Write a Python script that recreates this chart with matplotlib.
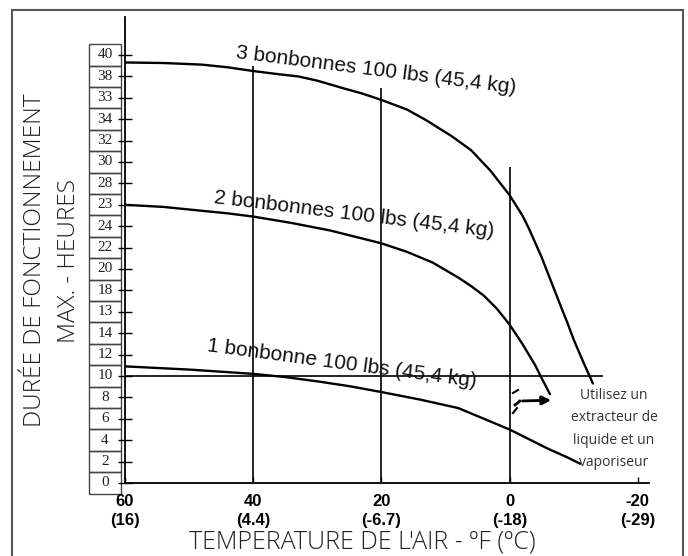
import numpy as np
import matplotlib
matplotlib.use("Agg")
import matplotlib.pyplot as plt
from matplotlib.patches import Rectangle
from matplotlib.transforms import blended_transform_factory

# Temperature (deg F) / hours
temp_3 = [60, 54, 48, 44, 40, 36, 33, 30, 26, 23, 20, 16, 13, 9, 6, 3, 0,
          -2, -3, -5, -6.5, -8, -9, -10, -11.5, -13]
hours_3 = [39.3, 39.25, 39.1, 38.85, 38.5, 38.2, 38.0, 37.6, 36.9, 36.4, 35.8,
           34.9, 33.9, 32.4, 31.1, 29.2, 26.9, 25.0, 23.8, 21.1, 18.8, 16.5,
           15.0, 13.4, 11.3, 9.3]

temp_2 = [60, 54, 49, 44, 40, 34, 28, 24, 20, 16, 12, 8, 6, 4, 2, 0,
          -2, -4, -5, -6.3]
hours_2 = [26.0, 25.8, 25.5, 25.2, 24.9, 24.3, 23.6, 23.0, 22.4, 21.6, 20.6,
           19.2, 18.4, 17.5, 16.3, 14.8, 13.0, 11.0, 9.8, 8.3]

temp_1 = [60, 55, 50, 45, 40, 35, 30, 25, 20, 14, 8, 6, 4, 2, 0, -3, -6,
          -9, -11]
hours_1 = [10.9, 10.75, 10.6, 10.4, 10.2, 9.9, 9.5, 9.05, 8.5, 7.8, 7.0,
           6.5, 6.0, 5.5, 5.0, 4.1, 3.2, 2.4, 1.8]

# y axis boxes (labels printed as in the original, typos included)
y_ticks = list(range(40, -1, -2))
y_labels = ["40", "38", "33", "34", "32", "30", "28", "23", "24", "22", "20",
            "18", "13", "14", "12", "10", "8", "6", "4", "2", "0"]

x_ticks = [60, 40, 20, 0, -20]
x_labels = ["60\n(16)", "40\n(4.4)", "20\n(-6.7)", "0\n(-18)", "-20\n(-29)"]

grid_temps = [40, 20, 0]
grid_tops = [39.0, 36.9, 29.5]

limit_hours = 10
limit_end = -14.6

curve_labels = ["3 bonbonnes 100 lbs (45,4 kg)",
                "2 bonbonnes 100 lbs (45,4 kg)",
                "1 bonbonne 100 lbs (45,4 kg)"]
label_pos = [(42.8, 39.7, -7.2), (46.2, 26.2, -6.9), (47.3, 12.3, -7.6)]

arrow_start = (-1.6, 7.66)
arrow_end = (-6.9, 7.75)
note = "Utilisez un\nextracteur de\nliquide et un\nvaporiseur"

fig = plt.figure(figsize=(6.88, 5.56), dpi=100)
ax = fig.add_axes([125 / 688, (556 - 483) / 556, (649 - 125) / 688, (483 - 17) / 556])
ax.set_xlim(60, -21.75)
ax.set_ylim(0, 43.55)

for s in ["top", "right"]:
    ax.spines[s].set_visible(False)
ax.spines["left"].set_linewidth(1.3)
ax.spines["bottom"].set_linewidth(1.3)

# curves
for t, h in [(temp_3, hours_3), (temp_2, hours_2), (temp_1, hours_1)]:
    ax.plot(t, h, color="black", lw=1.7, solid_capstyle="round",
            solid_joinstyle="round")

# vertical reference lines and the 10 h line
ax.vlines(grid_temps, 0, grid_tops, color="black", lw=1.2)
ax.hlines(limit_hours, 60, limit_end, color="black", lw=1.2)

# y ticks crossing the axis, labels in stacked boxes
ax.set_yticks(y_ticks)
ax.set_yticklabels([])
ax.tick_params(axis="y", direction="inout", length=10, width=1)
tr = blended_transform_factory(ax.transAxes, ax.transData)
for v, lab in zip(y_ticks, y_labels):
    ax.add_patch(Rectangle((-0.0687, v - 1), 0.0611, 2, transform=tr,
                           fill=False, edgecolor="#444", lw=1, clip_on=False))
    ax.text(-0.0382, v, lab, transform=tr, ha="center", va="center",
            fontsize=11, family="Liberation Serif", color="#222")

ax.set_xticks(x_ticks)
ax.set_xticklabels(x_labels, fontsize=12, fontweight="bold",
                   family="Liberation Sans", linespacing=1.3)
ax.tick_params(axis="x", direction="in", length=4, width=1, pad=8)

for lab, (x, y, rot) in zip(curve_labels, label_pos):
    ax.text(x, y, lab, rotation=rot, rotation_mode="anchor", ha="left",
            va="baseline", fontsize=15, family="Liberation Sans", color="#111")

# arrow towards the liquid extractor note
ax.annotate("", xy=arrow_end, xytext=arrow_start,
            arrowprops=dict(arrowstyle="-|>", color="black", lw=2, mutation_scale=13))
ax.plot([-0.85, -1.6], [7.29, 7.66], color="black", lw=2)
ax.plot([-0.53, -1.31], [8.41, 8.69], color="black", lw=1.5)
ax.plot([-0.53, -1.15], [6.54, 7.0], color="black", lw=1.5)
ax.text(-16.3, 5.05, note, ha="center", va="center", fontsize=10,
        family="Open Sans", color="#333", linespacing=1.65)

# axis titles
fig.text(35 / 688, 1 - 260 / 556, "DURÉE DE FONCTIONNEMENT", rotation=90,
         ha="center", va="center", fontsize=17.5, family="Open Sans",
         fontweight="light", color="#222")
fig.text(69 / 688, 1 - 261 / 556, "MAX. - HEURES", rotation=90,
         ha="center", va="center", fontsize=17.5, family="Open Sans",
         fontweight="light", color="#222")
fig.text(362 / 688, 1 - 542 / 556, "TEMPERATURE DE L'AIR - ºF (ºC)",
         ha="center", va="center", fontsize=18, family="Open Sans",
         fontweight="light", color="#222")

# outer frame (bottom edge falls outside the picture)
fig.patches.append(Rectangle((12 / 688, -0.05), (683 - 12) / 688, 1.05 - 10 / 556,
                             transform=fig.transFigure, fill=False,
                             edgecolor="#555", lw=1.5))

fig.savefig("out.png", dpi=100)
